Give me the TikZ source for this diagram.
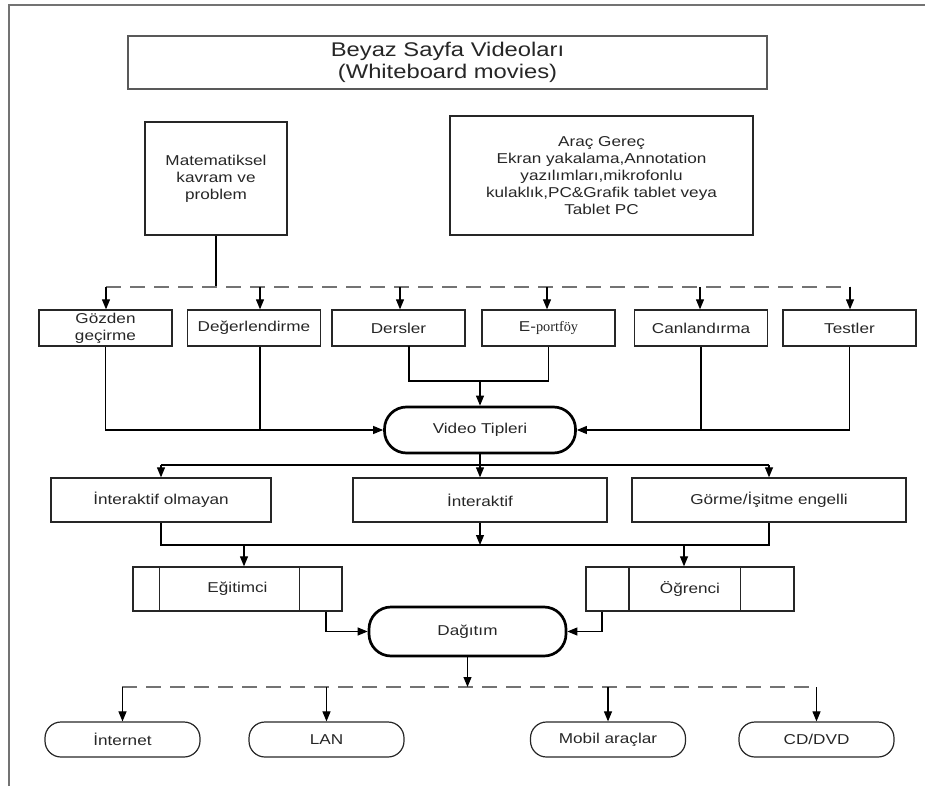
\documentclass[tikz,border=0pt]{standalone}
\usepackage{fontspec}
\setmainfont{Liberation Sans}[FakeStretch=1.2]
\newfontfamily\portfont{Liberation Serif}
\usetikzlibrary{arrows.meta}

\begin{document}
\begin{tikzpicture}[x=1pt,y=-1pt,
  font=\fontsize{14.3}{17}\selectfont,
  kutu/.style={draw=black!85, line width=1.3pt, rectangle, align=center, inner sep=1pt, text=black!85},
  kalin/.style={draw=black, line width=2.7pt, rectangle, rounded corners=22pt, align=center, text=black!85},
  uc/.style={draw=black!85, line width=1.2pt, rectangle, rounded corners=16pt, align=center, text=black!85},
  ok/.style={-{Triangle[length=10pt,width=8pt]}, line width=1.1pt},
  cizgi/.style={line width=1.1pt},
  kesik/.style={draw=black!55, line width=2pt, dash pattern=on 15pt off 9pt}]

\useasboundingbox (0,0) rectangle (925,786);

\def\ustY{287}
\def\altY{687}

% frame
\draw[draw=black!55, line width=2.5pt] (9,786) -- (9,5) -- (925,5);

% top
\node[kutu, draw=black!65, minimum width=639pt, minimum height=53pt,
      font=\fontsize{19.8}{22}\selectfont] (baslik) at (447.5,62.5)
      {Beyaz Sayfa Videoları\\(Whiteboard movies)};
\node[kutu, minimum width=142pt, minimum height=113pt] (mat) at (216,178.5)
      {Matematiksel\\kavram ve\\problem};
\node[kutu, minimum width=303pt, minimum height=119pt] (arac) at (601.5,175.5)
      {Araç Gereç\\Ekran yakalama,Annotation\\yazılımları,mikrofonlu\\kulaklık,PC\&Grafik tablet veya\\Tablet PC};

\coordinate (ust1) at (106,\ustY);
\coordinate (ust2) at (850,\ustY);
\draw[cizgi] (mat.south) -- (mat.south |- ust1);
\draw[kesik] (ust1) -- (ust2);

% row of video kinds
\foreach \nm/\xc/\txt in {gozden/105.5/{Gözden\\geçirme}, degerl/254/Değerlendirme,
    dersler/398.5/Dersler, eport/548.5/{E-{\portfont portföy}},
    canl/701/Canlandırma, testler/849.5/Testler}
  \node[kutu, minimum width=133pt, minimum height=36pt] (\nm) at (\xc,328) {\txt};

\foreach \xa/\nm in {106/gozden, 260/degerl, 400/dersler, 547/eport, 700/canl, 850/testler}
  \draw[ok] (\xa,\ustY) -- (\xa,0 |- \nm.north);

% video tipleri
\node[kalin, minimum width=191pt, minimum height=46pt] (vt) at (480,430) {Video Tipleri};

\draw[ok] (gozden.south) |- (vt.west);
\draw[cizgi] (260,0 |- degerl.south) -- (260,0 |- vt.west);
\coordinate (ds) at (409,346);
\draw[cizgi] (ds) -- ++(0,35) -| (eport.south);
\draw[ok] (vt.north |- 0,381) -- (vt.north);
\draw[cizgi] (canl.south) -- (canl.south |- vt.east);
\draw[ok] (testler.south) |- (vt.east);

% interaktif row
\node[kutu, minimum width=220pt, minimum height=44pt] (inter0) at (161,500) {İnteraktif olmayan};
\node[kutu, minimum width=254pt, minimum height=44pt] (inter) at (480,500) {İnteraktif};
\node[kutu, minimum width=274pt, minimum height=44pt] (gorme) at (769,500) {Görme/İşitme engelli};

\draw[cizgi] (vt.south) -- (vt.south |- 0,465);
\draw[cizgi] (inter0.north |- 0,465) -- (gorme.north |- 0,465);
\foreach \nm in {inter0, inter, gorme}
  \draw[ok] (\nm.north |- 0,465) -- (\nm.north);

\draw[cizgi] (inter0.south) |- (gorme.south |- 0,545) -- (gorme.south);
\draw[ok] (inter.south) -- (inter.south |- 0,545);

% egitimci / ogrenci
\node[kutu, minimum width=209pt, minimum height=44pt] (egit) at (237.5,589) {Eğitimci};
\node[kutu, minimum width=208pt, minimum height=44pt] (ogr) at (690,589) {Öğrenci};
\draw[kutu] ([xshift=27pt]egit.north west) -- ([xshift=27pt]egit.south west);
\draw[kutu] ([xshift=-43pt]egit.north east) -- ([xshift=-43pt]egit.south east);
\draw[kutu] ([xshift=43.5pt]ogr.north west) -- ([xshift=43.5pt]ogr.south west);
\draw[kutu] ([xshift=-54.5pt]ogr.north east) -- ([xshift=-54.5pt]ogr.south east);

\draw[ok] (244,545) -- (244,0 |- egit.north);
\draw[ok] (684,545) -- (684,0 |- ogr.north);

% dagitim
\node[kalin, minimum width=197pt, minimum height=49pt] (dag) at (467.5,631.5) {Dağıtım};
\draw[ok] (326,0 |- egit.south) |- (dag.west);
\draw[ok] (602,0 |- ogr.south) |- (dag.east);

\coordinate (alt1) at (122,\altY);
\coordinate (alt2) at (817,\altY);
\draw[kesik] (alt1) -- (alt2);
\draw[ok] (dag.south) -- (dag.south |- alt1);

% ways of delivery
\foreach \nm/\xc/\txt in {internet/122.5/İnternet, lan/326.5/LAN,
    mobil/608/Mobil araçlar, cddvd/816.5/{CD/DVD}}
  \node[uc, minimum width=155pt, minimum height=35pt] (\nm) at (\xc,739.5) {\txt};

\foreach \nm in {internet, lan, mobil, cddvd}
  \draw[ok] (\nm.north |- alt1) -- (\nm.north);

\end{tikzpicture}
\end{document}
